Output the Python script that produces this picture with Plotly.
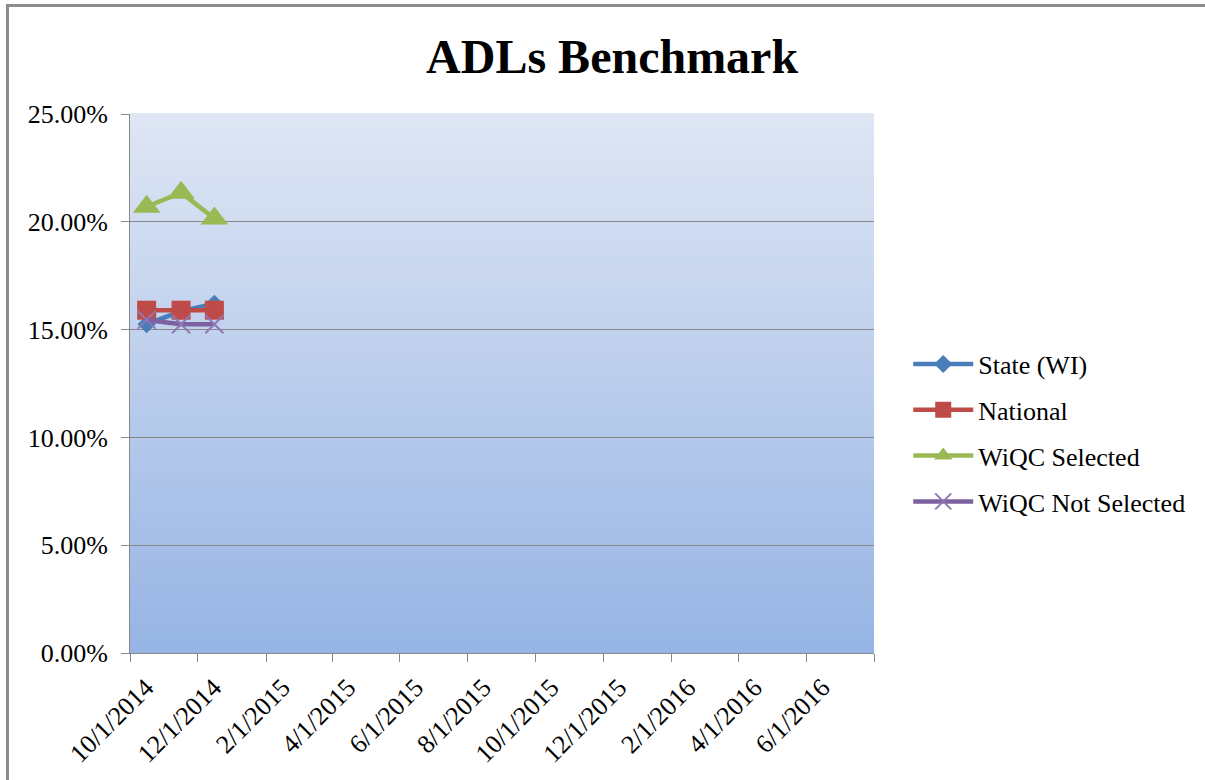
import plotly.graph_objects as go

# ---- data ----
months = ["2014-10-16", "2014-11-16", "2014-12-16"]
state_wi = [0.1525, 0.1585, 0.1620]
national = [0.1590, 0.1590, 0.1590]
wiqc_selected = [0.2070, 0.2135, 0.2015]
wiqc_not_selected = [0.1545, 0.1525, 0.1525]

tick_dates = ["2014-10-01", "2014-12-01", "2015-02-01", "2015-04-01", "2015-06-01",
              "2015-08-01", "2015-10-01", "2015-12-01", "2016-02-01", "2016-04-01",
              "2016-06-01", "2016-08-01"]
tick_labels = ["10/1/2014", "12/1/2014", "2/1/2015", "4/1/2015", "6/1/2015",
               "8/1/2015", "10/1/2015", "12/1/2015", "2/1/2016", "4/1/2016",
               "6/1/2016", ""]

FONT = "Liberation Serif, Times New Roman, serif"

series = [
    ("State (WI)", state_wi, "#4A7EBB", dict(symbol="diamond", size=14)),
    ("National", national, "#BE4B48", dict(symbol="square", size=19)),
    ("WiQC Selected", wiqc_selected, "#98B954", dict(symbol="triangle-up", size=24)),
    ("WiQC Not Selected", wiqc_not_selected, "#7D60A0",
     dict(symbol="x-thin", size=18, line=dict(width=2, color="#8E78B4"))),
]

fig = go.Figure()
for i, (name, vals, color, mk) in enumerate(series):
    marker = dict(color=color, **mk)
    fig.add_trace(go.Scatter(
        x=months, y=vals, name=name, mode="lines+markers",
        line=dict(color=color, width=4.5),
        marker=marker, legendgroup=f"g{i}",
    ))

# gradient plot background
shapes = []
n = 80
top = (223, 230, 244)
bot = (150, 180, 228)
for k in range(n):
    t = (k + 0.5) / n
    c = tuple(round(bot[j] + (top[j] - bot[j]) * t) for j in range(3))
    shapes.append(dict(type="rect", xref="x domain", yref="y domain",
                       x0=0, x1=1, y0=k / n, y1=(k + 1) / n + 0.002,
                       fillcolor="rgb(%d,%d,%d)" % c, line=dict(width=0),
                       layer="below"))
# outer chart border
shapes.append(dict(type="rect", xref="paper", yref="paper",
                   x0=-0.1647, x1=1.46, y0=-0.27, y1=1.2013,
                   line=dict(color="#8C8C8C", width=3), fillcolor="rgba(0,0,0,0)",
                   layer="above"))

fig.update_layout(
    width=1205, height=780,
    margin=dict(l=130, r=331, t=114, b=127),
    paper_bgcolor="white",
    plot_bgcolor="rgba(0,0,0,0)",
    shapes=shapes,
    title=dict(text="<b>ADLs Benchmark</b>", x=0.648, xref="paper", xanchor="center",
               y=0.928, yref="container", yanchor="middle",
               font=dict(family=FONT, size=48, color="black")),
    font=dict(family=FONT, color="black"),
    legend=dict(x=1.046, xanchor="left", y=0.408, yanchor="middle",
                font=dict(family=FONT, size=26, color="black"),
                itemwidth=60,
                tracegroupgap=9, bgcolor="rgba(0,0,0,0)"),
    showlegend=True,
)

fig.update_yaxes(range=[0, 0.25], dtick=0.05, tickformat=".2%",
                 showgrid=True, gridcolor="#878787", gridwidth=1,
                 showline=True, linecolor="#878787", linewidth=1,
                 ticks="outside", ticklen=8, tickcolor="#878787",
                 ticklabelstandoff=8,
                 tickfont=dict(family=FONT, size=26, color="black"),
                 zeroline=False, fixedrange=True)
fig.update_xaxes(type="date", range=["2014-10-01", "2016-08-01"],
                 tickvals=tick_dates, ticktext=tick_labels, tickangle=-45,
                 ticklabelshift=16,
                 showgrid=False, showline=True, linecolor="#878787", linewidth=1,
                 ticks="outside", ticklen=8, tickcolor="#878787",
                 tickfont=dict(family=FONT, size=26, color="black"),
                 zeroline=False)

fig.write_html("out.html", config={"displayModeBar": False},
               post_script="document.body.style.margin='0';document.body.style.overflow='hidden';")
